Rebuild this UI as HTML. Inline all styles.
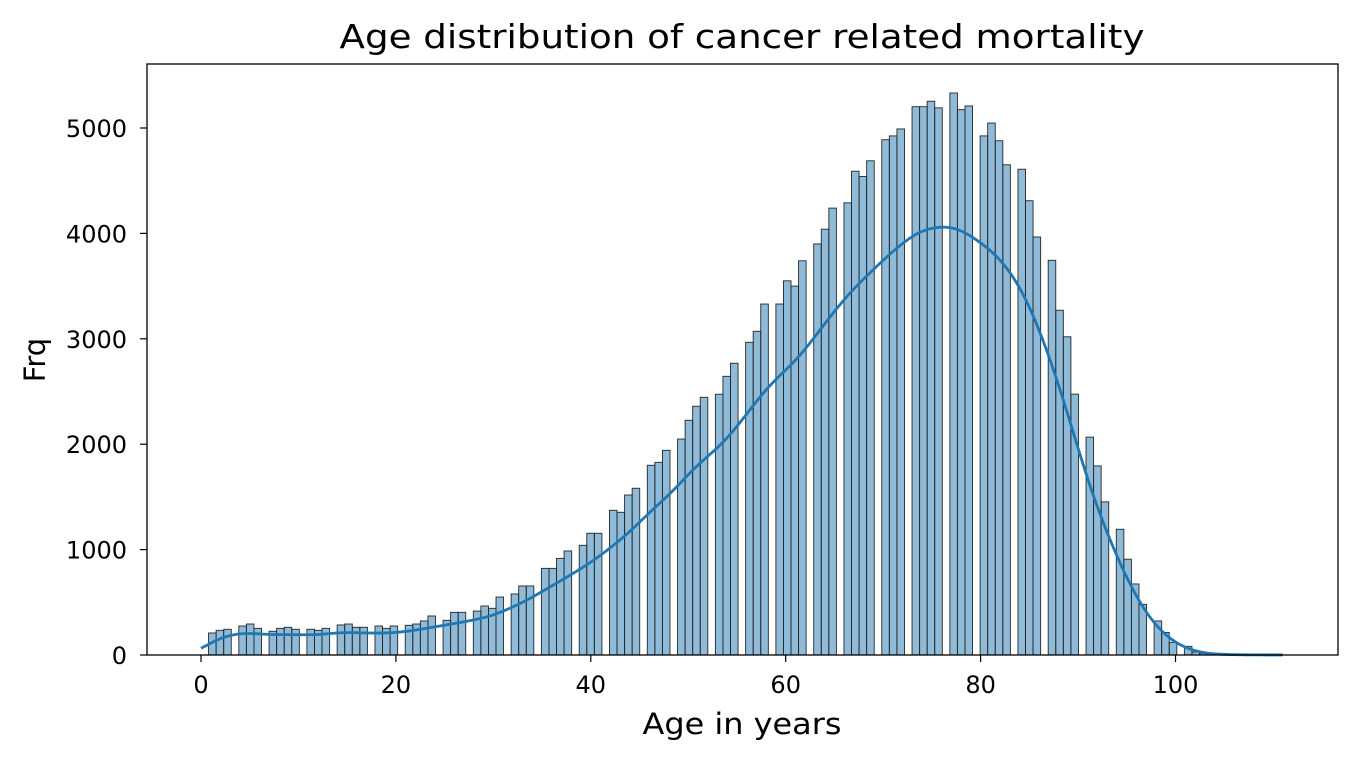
<!DOCTYPE html>
<html><head><meta charset="utf-8"><style>
body{margin:0;background:#fff;}
svg{display:block;font-family:"DejaVu Sans","Liberation Sans",sans-serif;}
</style></head><body>
<svg id="chart" width="1356" height="761">
<rect x="0" y="0" width="1356" height="761" fill="#fff"/>
<g id="bars"></g>
<g id="kde"></g>
<rect x="147" y="64" width="1191" height="591" fill="none" stroke="#000" stroke-width="1.3"/>
<g id="xticks"></g>
<g id="yticks"></g>
<text x="742" y="48" font-size="33" text-anchor="middle" textLength="805" lengthAdjust="spacingAndGlyphs">Age distribution of cancer related mortality</text>
<text x="742" y="734" font-size="29" text-anchor="middle" textLength="199" lengthAdjust="spacingAndGlyphs">Age in years</text>
<text x="45" y="360" font-size="29" text-anchor="middle" transform="rotate(-90 45 360)">Frq</text>
</svg>
<script>
// counts per integer age 0..111
const ages = Array.from({length:112},(_, i)=>i);
const counts = [0,209,234,244,275,294,253,225,253,263,244,244,234,253,285,294,263,263,275,253,
275,282,294,323,370,329,405,405,417,465,443,550,579,655,655,822,822,917,987,1041,
1155,1155,1373,1354,1518,1582,1800,1828,1942,2049,2227,2360,2445,2474,2644,2768,2967,3071,3330,3330,
3550,3500,3740,3900,4040,4240,4290,4590,4540,4689,4889,4925,4991,5202,5202,5254,5191,5332,5174,5209,
4925,5047,4879,4651,4609,4310,3966,3745,3271,3019,2475,2067,1794,1453,1193,909,674,481,323,214,
120,82,28,15,8,5,3,2,1,1,0,1];
const xTicks = [0,20,40,60,80,100];
const yTicks = [0,1000,2000,3000,4000,5000];
const nBins = 143;
const dataMin = 0, dataMax = 111;

const NS="http://www.w3.org/2000/svg";
const X0=201, PXYR=9.745, Y0=655, PXU=0.1054;
const sx = v => X0 + v*PXYR;
const sy = v => Y0 - v*PXU;
const w = (dataMax-dataMin)/nBins;
const binCounts = new Array(nBins).fill(0);
ages.forEach((a,i)=>{ let b=Math.min(nBins-1,Math.floor((a-dataMin)/w)); binCounts[b]+=counts[i]; });
const gb=document.getElementById('bars');
binCounts.forEach((c,b)=>{
  if(c<=0) return;
  const r=document.createElementNS(NS,'rect');
  const x1=sx(dataMin+b*w), x2=sx(dataMin+(b+1)*w);
  r.setAttribute('x',x1); r.setAttribute('width',x2-x1);
  r.setAttribute('y',sy(c)); r.setAttribute('height',Y0-sy(c));
  r.setAttribute('fill','rgba(31,119,180,0.5)'); r.setAttribute('stroke','#262626'); r.setAttribute('stroke-width','0.9');
  
  
  gb.appendChild(r);
});
// KDE (gaussian, Scott bandwidth), scaled to counts * bin width
let N=0,m=0; counts.forEach((c,i)=>{N+=c;m+=c*ages[i];}); m/=N;
let v=0; counts.forEach((c,i)=>{v+=c*(ages[i]-m)**2;}); const sd=Math.sqrt(v/N);
const bw = sd*Math.pow(N,-0.2);
let pts=[];
for(let k=0;k<=400;k++){
  const t=dataMin+(dataMax-dataMin)*k/400; let d=0;
  counts.forEach((c,i)=>{ const z=(t-ages[i])/bw; d+=c*Math.exp(-0.5*z*z); });
  d = d/(bw*Math.sqrt(2*Math.PI))*w;
  pts.push(sx(t).toFixed(2)+','+sy(d).toFixed(2));
}
const pl=document.createElementNS(NS,'polyline');
pl.setAttribute('points',pts.join(' ')); pl.setAttribute('fill','none');
pl.setAttribute('stroke','#1f77b4'); pl.setAttribute('stroke-width','2.8');


document.getElementById('kde').appendChild(pl);
const gx=document.getElementById('xticks');
xTicks.forEach(t=>{
  const l=document.createElementNS(NS,'line');
  l.setAttribute('x1',sx(t)); l.setAttribute('x2',sx(t)); l.setAttribute('y1',655); l.setAttribute('y2',662);
  l.setAttribute('stroke','#000'); l.setAttribute('stroke-width','1.2');
  
  
  gx.appendChild(l);
  const tx=document.createElementNS(NS,'text');
  tx.setAttribute('x',sx(t)); tx.setAttribute('y',693); tx.setAttribute('font-size','24'); tx.setAttribute('text-anchor','middle');
  tx.textContent=t;
  
  
  gx.appendChild(tx);
});
const gy=document.getElementById('yticks');
yTicks.forEach(t=>{
  const l=document.createElementNS(NS,'line');
  l.setAttribute('x1',140); l.setAttribute('x2',147); l.setAttribute('y1',sy(t)); l.setAttribute('y2',sy(t));
  l.setAttribute('stroke','#000'); l.setAttribute('stroke-width','1.2');
  
  
  gy.appendChild(l);
  const tx=document.createElementNS(NS,'text');
  tx.setAttribute('x',127); tx.setAttribute('y',sy(t)+9); tx.setAttribute('font-size','24'); tx.setAttribute('text-anchor','end');
  tx.textContent=t;
  
  
  gy.appendChild(tx);
});
</script>
</body></html>
